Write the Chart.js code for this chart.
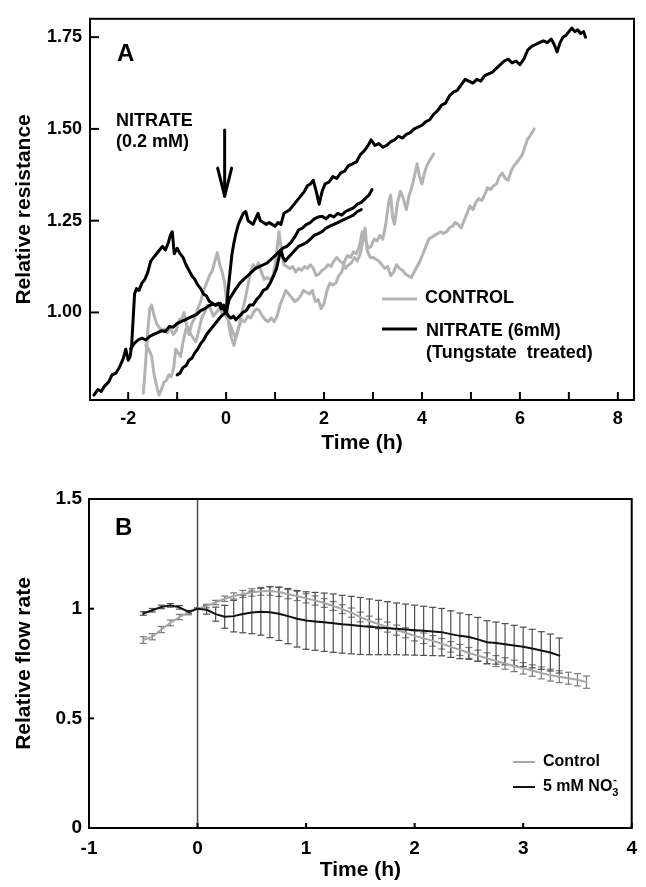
<!DOCTYPE html>
<html>
<head>
<meta charset="utf-8">
<title>Relative resistance and relative flow rate</title>
<script src="https://cdn.jsdelivr.net/npm/chart.js@4.4.1/dist/chart.umd.min.js"></script>
<style>
  html, body { margin: 0; padding: 0; background: #fff; }
  #wrap { position: relative; width: 646px; height: 887px; }
  #chartA { position: absolute; left: 0; top: 0; }
  #chartB { position: absolute; left: 0; top: 460px; }
</style>
</head>
<body>
<div id="wrap">
  <canvas id="chartA" width="646" height="460"></canvas>
  <canvas id="chartB" width="646" height="427"></canvas>
</div>
<script>
// ---- Panel A: relative resistance traces ----
let timeTicksA = [-2, -1, 0, 1, 2, 3, 4, 5, 6, 7, 8];
let resistanceTicks = [1.00, 1.25, 1.50, 1.75];

// nitrate trace with the early peak
let nitratePeakTimes = [-2.70,-2.62,-2.55,-2.48,-2.40,-2.33,-2.25,-2.18,-2.10,-2.05,
  -2.00,-1.96,-1.93,-1.90,-1.87,-1.83,-1.78,-1.72,-1.66,-1.60,
  -1.54,-1.48,-1.42,-1.36,-1.30,-1.24,-1.18,-1.14,-1.10,-1.06,
  -1.00,-0.94,-0.88,-0.82,-0.76,-0.70,-0.64,-0.58,-0.52,-0.46,
  -0.40,-0.34,-0.28,-0.22,-0.16,-0.10,-0.05,0.00,
  0.05,0.10,0.15,0.20,0.27,0.34,0.41,0.48,0.55,0.62,
  0.69,0.76,0.83,0.90,0.97,1.03,1.08,1.12,1.16,1.21,
  1.27,1.34,1.41,1.48,1.56,1.64,1.72,1.80,1.88,1.96,
  2.04,2.12,2.20,2.28,2.36,2.44,2.52,2.60,2.68,2.76];
let nitratePeakValues = [0.775,0.79,0.785,0.80,0.81,0.83,0.835,0.85,0.875,0.90,
  0.87,0.88,0.91,0.98,1.05,1.065,1.06,1.08,1.09,1.11,
  1.14,1.15,1.16,1.17,1.18,1.17,1.19,1.21,1.22,1.16,
  1.175,1.16,1.15,1.13,1.115,1.10,1.09,1.075,1.065,1.05,
  1.045,1.03,1.025,1.02,1.025,1.01,1.02,1.00,
  0.99,0.985,0.99,0.98,0.99,1.00,1.005,1.02,1.02,1.035,
  1.045,1.06,1.065,1.08,1.10,1.12,1.15,1.17,1.15,1.14,
  1.15,1.16,1.17,1.18,1.185,1.19,1.20,1.21,1.215,1.22,
  1.23,1.235,1.24,1.245,1.25,1.255,1.26,1.265,1.275,1.28];

// nitrate trace with the slow rise
let nitrateSlowTimes = [-1.95,-1.88,-1.80,-1.72,-1.64,-1.56,-1.48,-1.40,-1.32,-1.24,
  -1.16,-1.08,-1.00,-0.92,-0.84,-0.76,-0.68,-0.60,-0.52,-0.44,
  -0.36,-0.28,-0.20,-0.12,-0.06,0.00,
  0.06,0.13,0.20,0.28,0.36,0.44,0.52,0.60,0.68,0.76,
  0.84,0.92,1.00,1.08,1.16,1.24,1.32,1.40,1.48,1.56,
  1.64,1.72,1.80,1.88,1.96,2.04,2.12,2.20,2.28,2.36,
  2.44,2.52,2.60,2.68,2.76,2.84,2.92,2.98];
let nitrateSlowValues = [0.90,0.915,0.925,0.93,0.925,0.935,0.94,0.945,0.95,0.948,
  0.962,0.96,0.97,0.975,0.98,0.985,0.99,0.995,1.005,1.01,
  1.018,1.022,1.02,1.025,1.01,1.00,
  1.035,1.05,1.065,1.08,1.09,1.10,1.11,1.12,1.125,1.13,
  1.135,1.145,1.155,1.165,1.175,1.18,1.19,1.205,1.225,1.23,
  1.24,1.245,1.255,1.26,1.262,1.255,1.265,1.26,1.27,1.265,
  1.275,1.28,1.285,1.295,1.30,1.31,1.32,1.335];

// nitrate trace running to 7.3 h
let nitrateLongTimes = [-1.00,-0.94,-0.88,-0.82,-0.76,-0.70,-0.64,-0.58,-0.52,-0.46,
  -0.40,-0.34,-0.28,-0.22,-0.16,-0.10,-0.05,0.00,0.04,0.08,
  0.12,0.16,0.20,0.25,0.30,0.35,0.40,0.45,0.50,0.55,
  0.60,0.65,0.70,0.76,0.82,0.88,0.94,1.00,1.06,1.12,
  1.18,1.24,1.30,1.36,1.42,1.48,1.54,1.60,1.66,1.72,
  1.78,1.84,1.90,1.96,2.02,2.10,2.18,2.26,2.34,2.42,
  2.50,2.58,2.66,2.74,2.82,2.90,2.96,3.04,3.12,3.20,
  3.28,3.36,3.44,3.52,3.60,3.68,3.76,3.84,3.92,4.00,
  4.08,4.16,4.24,4.32,4.40,4.48,4.56,4.64,4.72,4.80,
  4.88,4.96,5.04,5.12,5.20,5.28,5.36,5.44,5.52,5.60,
  5.68,5.76,5.84,5.92,6.00,6.08,6.16,6.24,6.32,6.40,
  6.48,6.56,6.64,6.70,6.76,6.82,6.88,6.94,7.00,7.06,
  7.12,7.18,7.24,7.30,7.34];
let nitrateLongValues = [0.83,0.835,0.85,0.855,0.87,0.875,0.89,0.90,0.915,0.925,
  0.94,0.95,0.96,0.97,0.98,0.99,0.995,1.00,1.06,1.11,
  1.16,1.19,1.215,1.24,1.255,1.27,1.275,1.25,1.245,1.24,
  1.255,1.27,1.25,1.245,1.24,1.245,1.24,1.235,1.245,1.24,
  1.27,1.275,1.28,1.29,1.30,1.31,1.32,1.33,1.345,1.35,
  1.36,1.33,1.295,1.33,1.35,1.355,1.37,1.365,1.38,1.385,
  1.40,1.405,1.41,1.43,1.44,1.455,1.47,1.455,1.46,1.45,
  1.455,1.465,1.47,1.48,1.475,1.485,1.49,1.50,1.505,1.51,
  1.52,1.525,1.54,1.55,1.565,1.57,1.59,1.60,1.605,1.62,
  1.635,1.63,1.625,1.635,1.63,1.645,1.65,1.655,1.665,1.675,
  1.685,1.69,1.68,1.685,1.675,1.69,1.715,1.725,1.73,1.735,
  1.74,1.735,1.745,1.73,1.71,1.735,1.75,1.755,1.765,1.775,
  1.765,1.77,1.76,1.765,1.75];

// control traces
let controlShortTimes = [-1.69,-1.64,-1.60,-1.56,-1.52,-1.47,-1.42,-1.37,-1.32,-1.26,
  -1.20,-1.14,-1.08,-1.02,-0.96,-0.90,-0.86,-0.80,-0.76,-0.70,
  -0.64,-0.58,-0.52,-0.46,-0.40,-0.34,-0.28,-0.23,-0.18,-0.13,
  -0.08,-0.03,0.02,0.06,0.11,0.16,0.21,0.26,0.32,0.38,
  0.44,0.50,0.56,0.62,0.68,0.74,0.80,0.86,0.92,0.98,
  1.04,1.10,1.16,1.22,1.28,1.34,1.40,1.46,1.52,1.58,
  1.64,1.70,1.76,1.82,1.88,1.94,2.00,2.06,2.12,2.18,
  2.24,2.30,2.36,2.42,2.48,2.54,2.60,2.66,2.72,2.78,
  2.84,2.90,2.96,3.02,3.08,3.14,3.20,3.26,3.32,3.36,
  3.40,3.44,3.50,3.56,3.62,3.68,3.74,3.80,3.86,3.90,
  3.95,4.00,4.05,4.10,4.16,4.24];
let controlShortValues = [0.78,0.87,0.95,1.01,1.02,0.99,0.97,0.96,0.95,0.955,
  0.945,0.96,0.94,0.95,0.98,0.985,1.00,0.96,0.94,0.97,
  0.985,1.01,1.03,1.06,1.08,1.10,1.115,1.14,1.163,1.13,
  1.11,1.08,1.02,0.96,0.93,0.91,0.94,0.96,0.98,0.975,
  0.99,0.985,1.00,1.01,1.005,0.99,0.98,0.975,0.985,0.975,
  0.99,1.02,1.04,1.06,1.05,1.04,1.03,1.035,1.045,1.06,
  1.055,1.05,1.06,1.03,1.035,1.01,1.025,1.06,1.08,1.075,
  1.08,1.10,1.11,1.14,1.155,1.15,1.165,1.16,1.18,1.22,
  1.20,1.175,1.18,1.20,1.195,1.21,1.20,1.24,1.30,1.32,
  1.26,1.24,1.30,1.33,1.31,1.28,1.32,1.345,1.38,1.405,
  1.37,1.35,1.38,1.40,1.415,1.432];

let controlLongTimes = [-1.64,-1.58,-1.52,-1.47,-1.42,-1.37,-1.32,-1.27,-1.22,-1.17,
  -1.12,-1.07,-1.03,-0.98,-0.93,-0.88,-0.82,-0.78,-0.72,-0.67,
  -0.62,-0.56,-0.50,-0.44,-0.38,-0.32,-0.26,-0.20,-0.14,-0.08,
  -0.02,0.04,0.10,0.16,0.20,0.26,0.32,0.38,0.44,0.50,
  0.55,0.60,0.66,0.72,0.78,0.84,0.90,0.96,1.02,1.08,
  1.13,1.18,1.24,1.30,1.36,1.42,1.48,1.54,1.60,1.66,
  1.72,1.78,1.84,1.90,1.96,2.02,2.08,2.14,2.20,2.26,
  2.32,2.38,2.44,2.50,2.56,2.62,2.68,2.74,2.80,2.84,
  2.88,2.94,3.00,3.06,3.12,3.18,3.24,3.30,3.36,3.42,
  3.48,3.54,3.60,3.66,3.72,3.78,3.84,3.90,3.96,4.02,
  4.08,4.14,4.20,4.26,4.32,4.38,4.44,4.50,4.56,4.62,
  4.68,4.74,4.80,4.86,4.92,4.98,5.04,5.10,5.16,5.22,
  5.28,5.34,5.40,5.46,5.52,5.58,5.64,5.70,5.76,5.82,
  5.88,5.94,6.00,6.05,6.10,6.15,6.20,6.25,6.29];
let controlLongValues = [0.91,0.90,0.88,0.83,0.80,0.775,0.79,0.81,0.815,0.83,
  0.825,0.85,0.90,0.89,0.88,0.92,0.955,0.96,0.94,0.93,
  0.92,0.95,0.985,1.00,1.02,1.01,0.99,1.00,1.01,1.00,
  0.995,0.98,0.96,0.94,0.93,0.96,1.00,1.03,1.07,1.11,
  1.13,1.12,1.135,1.11,1.09,1.095,1.09,1.10,1.15,1.22,
  1.17,1.13,1.125,1.12,1.125,1.11,1.12,1.115,1.125,1.12,
  1.13,1.12,1.10,1.105,1.115,1.12,1.13,1.125,1.14,1.15,
  1.14,1.135,1.12,1.13,1.135,1.15,1.14,1.16,1.20,1.23,
  1.17,1.15,1.15,1.145,1.14,1.13,1.12,1.125,1.10,1.11,
  1.13,1.12,1.115,1.105,1.10,1.095,1.11,1.125,1.14,1.16,
  1.18,1.20,1.205,1.21,1.215,1.22,1.215,1.22,1.23,1.235,
  1.245,1.24,1.23,1.25,1.27,1.29,1.28,1.30,1.31,1.305,
  1.32,1.34,1.335,1.345,1.35,1.37,1.38,1.365,1.36,1.385,
  1.40,1.41,1.42,1.43,1.45,1.47,1.48,1.49,1.50];

// ---- Panel B: relative flow rate, mean +/- error ----
let timeTicksB = [-1, 0, 1, 2, 3, 4];
let flowTicks = [0, 0.5, 1, 1.5];

let controlFlowTimes = [-0.5,-0.417,-0.333,-0.25,-0.167,-0.083,0,0.083,0.167,0.25,
  0.333,0.417,0.5,0.583,0.667,0.75,0.833,0.917,1.0,1.083,
  1.167,1.25,1.333,1.417,1.5,1.583,1.667,1.75,1.833,1.917,
  2.0,2.083,2.167,2.25,2.333,2.417,2.5,2.583,2.667,2.75,
  2.833,2.917,3.0,3.083,3.167,3.25,3.333,3.417,3.5,3.583];
let controlFlowValues = [0.857,0.872,0.905,0.935,0.962,0.982,1.0,1.012,1.028,1.045,
  1.058,1.067,1.074,1.079,1.081,1.076,1.066,1.058,1.047,1.037,
  1.026,1.012,0.998,0.982,0.962,0.944,0.93,0.916,0.902,0.89,
  0.876,0.865,0.853,0.84,0.826,0.812,0.798,0.786,0.774,0.761,
  0.75,0.739,0.728,0.718,0.707,0.697,0.69,0.683,0.676,0.665];
let controlFlowErrors = [0.015,0.014,0.014,0.013,0.012,0.01,0.004,0.008,0.01,0.012,
  0.014,0.016,0.017,0.018,0.02,0.02,0.021,0.021,0.021,0.021,
  0.02,0.02,0.02,0.021,0.022,0.022,0.022,0.023,0.023,0.023,
  0.023,0.024,0.024,0.024,0.024,0.025,0.025,0.025,0.025,0.025,
  0.026,0.026,0.026,0.026,0.027,0.027,0.027,0.027,0.028,0.028];

let nitrateFlowTimes = [-0.5,-0.417,-0.333,-0.25,-0.167,-0.083,0,0.083,0.167,0.25,
  0.333,0.417,0.5,0.583,0.667,0.75,0.833,0.917,1.0,1.083,
  1.167,1.25,1.333,1.417,1.5,1.583,1.667,1.75,1.833,1.917,
  2.0,2.083,2.167,2.25,2.333,2.417,2.5,2.583,2.667,2.75,
  2.833,2.917,3.0,3.083,3.167,3.25,3.333];
let nitrateFlowValues = [0.978,0.993,1.008,1.015,1.006,0.985,1.0,0.995,0.975,0.963,
  0.966,0.976,0.983,0.986,0.984,0.977,0.966,0.954,0.946,0.942,
  0.938,0.934,0.929,0.925,0.921,0.917,0.914,0.911,0.908,0.905,
  0.902,0.899,0.896,0.893,0.884,0.876,0.871,0.86,0.847,0.843,
  0.838,0.832,0.826,0.818,0.809,0.8,0.786];
let nitrateFlowErrors = [0.008,0.008,0.008,0.008,0.008,0.006,0.002,0.02,0.032,0.052,
  0.072,0.086,0.097,0.107,0.116,0.122,0.126,0.129,0.131,0.132,
  0.133,0.133,0.132,0.131,0.13,0.127,0.124,0.121,0.118,0.116,
  0.114,0.112,0.11,0.108,0.106,0.104,0.102,0.1,0.098,0.096,
  0.094,0.092,0.09,0.088,0.086,0.084,0.08];

const FONT = "'Liberation Sans', Arial, Helvetica, sans-serif";
Chart.defaults.font.family = FONT;
Chart.defaults.font.weight = 'bold';
Chart.defaults.color = '#000';

function lineSeries(times, values, color, width) {
  return {
    data: times.map((t, i) => ({ x: t, y: values[i] })),
    showLine: true,
    borderColor: color,
    borderWidth: width,
    pointRadius: 0,
    borderJoinStyle: 'round',
    borderCapStyle: 'round',
    tension: 0,
    fill: false
  };
}

function strokeLine(ctx, x1, y1, x2, y2) {
  ctx.beginPath();
  ctx.moveTo(x1, y1);
  ctx.lineTo(x2, y2);
  ctx.stroke();
}

// frame round the plot and ticks pointing into it
function drawFrame(chart, xLen, yLen) {
  const { ctx, chartArea: a, scales: { x, y } } = chart;
  ctx.save();
  ctx.strokeStyle = '#000';
  ctx.lineWidth = 2;
  ctx.strokeRect(a.left, a.top, a.right - a.left, a.bottom - a.top);
  x.ticks.forEach(t => {
    const px = x.getPixelForValue(t.value);
    strokeLine(ctx, px, a.bottom, px, a.bottom - xLen);
  });
  y.ticks.forEach(t => {
    const py = y.getPixelForValue(t.value);
    strokeLine(ctx, a.left, py, a.left + yLen, py);
  });
  ctx.restore();
}

let panelADecor = {
  id: 'panelADecor',
  afterDraw(chart) {
    drawFrame(chart, 8, 9);
    const { ctx, chartArea: a, scales: { x, y } } = chart;
    ctx.save();
    ctx.fillStyle = '#000';
    ctx.textBaseline = 'alphabetic';
    ctx.font = 'bold 24px ' + FONT;
    ctx.fillText('A', a.left + 27, a.top + 42);

    ctx.font = 'bold 18px ' + FONT;
    ctx.fillText('NITRATE', a.left + 26, a.top + 107);
    ctx.fillText('(0.2 mM)', a.left + 26, a.top + 128);

    // arrow marking nitrate addition
    const ax = x.getPixelForValue(-0.03);
    const ay1 = y.getPixelForValue(1.497);
    const ay2 = y.getPixelForValue(1.317);
    ctx.strokeStyle = '#000';
    ctx.lineWidth = 3;
    ctx.lineCap = 'round';
    strokeLine(ctx, ax, ay1, ax, ay2);
    strokeLine(ctx, ax - 7, ay2 - 28, ax, ay2);
    strokeLine(ctx, ax + 7, ay2 - 28, ax, ay2);

    // legend
    ctx.lineCap = 'butt';
    ctx.textBaseline = 'middle';
    ctx.strokeStyle = '#b3b3b3';
    strokeLine(ctx, a.left + 292, 299, a.left + 327, 299);
    ctx.strokeStyle = '#000';
    strokeLine(ctx, a.left + 292, 329, a.left + 327, 329);
    ctx.fillText('CONTROL', a.left + 335, 298);
    ctx.fillText('NITRATE (6mM)', a.left + 336, 331);
    ctx.fillText('(Tungstate  treated)', a.left + 336, 353);
    ctx.restore();
  }
};

let panelBDecor = {
  id: 'panelBDecor',
  beforeDatasetsDraw(chart) {
    const { ctx, chartArea: a, scales: { x, y } } = chart;
    ctx.save();
    // time zero line
    ctx.strokeStyle = '#4a4a4a';
    ctx.lineWidth = 1.5;
    const x0 = x.getPixelForValue(0);
    strokeLine(ctx, x0, a.top, x0, a.bottom);

    // error bars
    const bars = (times, values, errors, color) => {
      ctx.strokeStyle = color;
      ctx.lineWidth = 1.2;
      times.forEach((t, i) => {
        const px = x.getPixelForValue(t);
        const top = y.getPixelForValue(values[i] + errors[i]);
        const bot = y.getPixelForValue(values[i] - errors[i]);
        strokeLine(ctx, px, top, px, bot);
        strokeLine(ctx, px - 3.5, top, px + 3.5, top);
        strokeLine(ctx, px - 3.5, bot, px + 3.5, bot);
      });
    };
    bars(controlFlowTimes, controlFlowValues, controlFlowErrors, '#7a7a7a');
    bars(nitrateFlowTimes, nitrateFlowValues, nitrateFlowErrors, '#4d4d4d');
    ctx.restore();
  },
  afterDraw(chart) {
    drawFrame(chart, 5, 5);
    const { ctx, chartArea: a } = chart;
    ctx.save();
    ctx.fillStyle = '#000';
    ctx.textBaseline = 'alphabetic';
    ctx.font = 'bold 24px ' + FONT;
    ctx.fillText('B', a.left + 26, a.top + 36);

    // legend
    ctx.lineWidth = 2;
    ctx.strokeStyle = '#a6a6a6';
    strokeLine(ctx, 513, 302, 535, 302);
    ctx.strokeStyle = '#111';
    strokeLine(ctx, 513, 327, 535, 327);
    ctx.textBaseline = 'middle';
    ctx.font = 'bold 16px ' + FONT;
    ctx.fillText('Control', 543, 302);
    const label = '5 mM NO';
    ctx.fillText(label, 543, 327);
    const w = ctx.measureText(label).width;
    ctx.font = 'bold 11px ' + FONT;
    ctx.fillText('3', 543 + w, 333);
    ctx.fillText('-', 543 + w + 1, 320);
    ctx.restore();
  }
};

function axisX(min, max, ticks, labelFn, fontSize, padding, height) {
  return {
    type: 'linear', min: min, max: max,
    afterBuildTicks: s => { s.ticks = ticks.map(v => ({ value: v })); },
    afterFit: s => { s.height = height; },
    grid: { display: false, drawTicks: false },
    border: { display: false },
    ticks: { autoSkip: false, maxRotation: 0, padding: padding, color: '#000',
             font: { size: fontSize, weight: 'bold' }, callback: labelFn },
    title: { display: true, text: 'Time (h)', color: '#000',
             font: { size: 21, weight: 'bold' }, padding: { top: 0, bottom: 4 } }
  };
}

function axisY(min, max, ticks, labelFn, fontSize, padding, width, titleText) {
  return {
    type: 'linear', min: min, max: max,
    afterBuildTicks: s => { s.ticks = ticks.map(v => ({ value: v })); },
    afterFit: s => { s.width = width; },
    grid: { display: false, drawTicks: false },
    border: { display: false },
    ticks: { autoSkip: false, padding: padding, color: '#000',
             font: { size: fontSize, weight: 'bold' }, callback: labelFn },
    title: { display: true, text: titleText, color: '#000',
             font: { size: 21, weight: 'bold' }, padding: { top: 12, bottom: 0 } }
  };
}

new Chart(document.getElementById('chartA'), {
  type: 'scatter',
  data: {
    datasets: [
      lineSeries(nitrateLongTimes, nitrateLongValues, '#000', 3),
      lineSeries(nitrateSlowTimes, nitrateSlowValues, '#000', 3),
      lineSeries(nitratePeakTimes, nitratePeakValues, '#000', 3),
      lineSeries(controlShortTimes, controlShortValues, '#b3b3b3', 3),
      lineSeries(controlLongTimes, controlLongValues, '#b3b3b3', 3)
    ]
  },
  options: {
    responsive: false,
    animation: false,
    layout: { padding: { top: 8, right: 12, left: 0, bottom: 0 } },
    plugins: { legend: { display: false }, tooltip: { enabled: false } },
    scales: {
      x: axisX(-2.78, 8.33, timeTicksA, v => (v % 2 === 0 ? String(v) : ''), 18, 8, 60),
      y: axisY(0.7615, 1.80, resistanceTicks, v => v.toFixed(2), 18, 8, 90, 'Relative resistance')
    }
  },
  plugins: [panelADecor]
});

new Chart(document.getElementById('chartB'), {
  type: 'scatter',
  data: {
    datasets: [
      lineSeries(nitrateFlowTimes, nitrateFlowValues, '#111', 2),
      lineSeries(controlFlowTimes, controlFlowValues, '#a6a6a6', 2)
    ]
  },
  options: {
    responsive: false,
    animation: false,
    layout: { padding: { top: 39, right: 12, left: 0, bottom: 0 } },
    plugins: { legend: { display: false }, tooltip: { enabled: false } },
    scales: {
      x: axisX(-1, 4, timeTicksB, v => String(v), 19, 9, 59),
      y: axisY(0, 1.5, flowTicks, v => String(v), 19, 7, 89, 'Relative flow rate')
    }
  },
  plugins: [panelBDecor]
});
</script>
</body>
</html>
